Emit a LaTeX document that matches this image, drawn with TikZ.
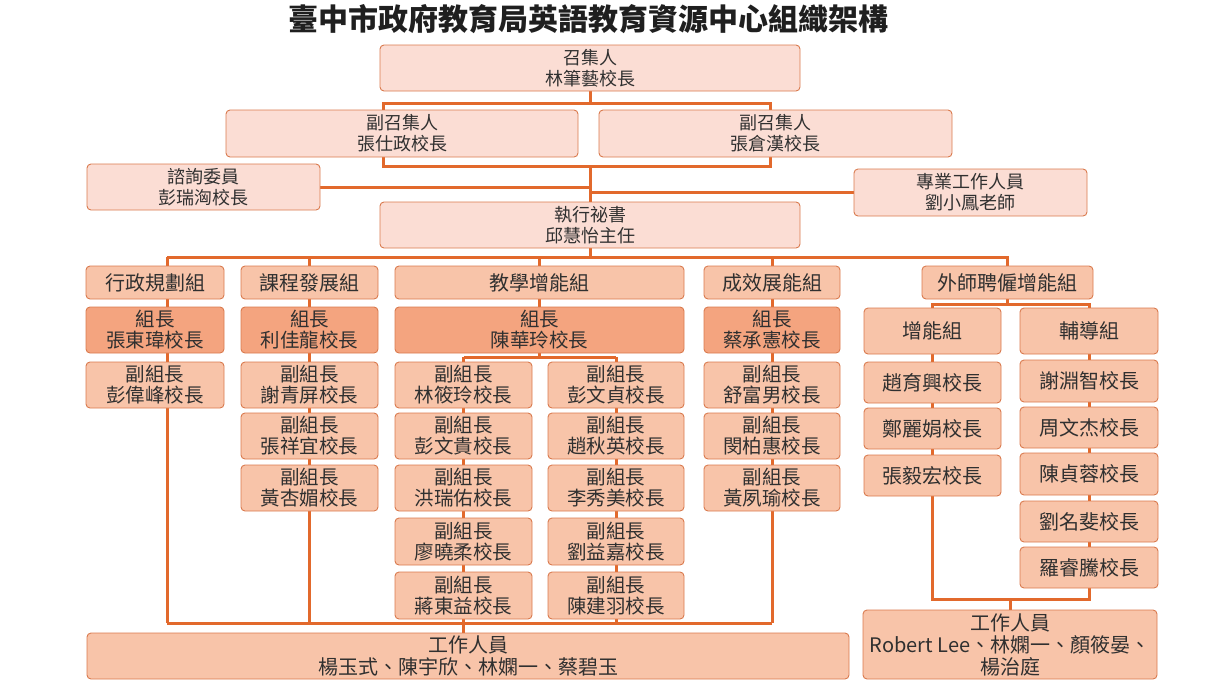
\documentclass[tikz,border=0pt]{standalone}
\usepackage{fontspec}
\setmainfont{Noto Sans CJK TC}
\usetikzlibrary{backgrounds}
\definecolor{lnc}{HTML}{E2692C}
\definecolor{bdc}{HTML}{D97A4E}
\definecolor{pk}{HTML}{FBDDD4}
\definecolor{pm}{HTML}{F8C4A9}
\definecolor{pd}{HTML}{F4A47F}
\definecolor{tx}{HTML}{303030}
\newcommand\bx[7]{\node[#6, minimum width={#4-#2}, minimum height={#5-#3}] (#1) at ({(#2+#4)/2},{(#3+#5)/2}) {#7};}
\tikzset{
  base/.style={rectangle, rounded corners=4pt, draw=bdc, line width=0.9pt, inner sep=0pt, align=center, text=tx},
  topbox/.style={base, fill=pk, font=\fontsize{18}{21}\selectfont},
  hdbox/.style={base, fill=pm, font=\fontsize{20}{22}\selectfont},
  ldbox/.style={base, fill=pd, font=\fontsize{19.5}{21}\selectfont},
  dpbox/.style={base, fill=pm, font=\fontsize{19.5}{21}\selectfont},
  mbbox/.style={base, fill=pm, font=\fontsize{20}{22}\selectfont},
  stbox/.style={base, fill=pm, font=\fontsize{20}{22}\selectfont},
  conn/.style={draw=lnc, line width=3pt},
}
\begin{document}
\begin{tikzpicture}[x=1pt,y=-1pt]
\useasboundingbox (0,0) rectangle (1225,689);
\node[font=\fontsize{30}{33}\selectfont\bfseries, text=black!88] (title) at (588,19) {臺中市政府教育局英語教育資源中心組織架構};
% top
\bx{conv}{380}{45}{800}{91}{topbox}{召集人\\林筆藝校長}
\bx{v1}{226}{110}{578}{157}{topbox}{副召集人\\張仕政校長}
\bx{v2}{599}{110}{952}{157}{topbox}{副召集人\\張倉漢校長}
\bx{adv}{87}{164}{320}{210}{topbox}{諮詢委員\\彭瑞洶校長}
\bx{pro}{854}{169}{1087}{216}{topbox}{專業工作人員\\劉小鳳老師}
\bx{exe}{380}{202}{800}{248}{topbox}{執行祕書\\邱慧怡主任}
% headers
\bx{h1}{86}{266}{224}{299}{hdbox}{行政規劃組}
\bx{h2}{241}{266}{378}{299}{hdbox}{課程發展組}
\bx{h3}{395}{266}{684}{299}{hdbox}{教學增能組}
\bx{h4}{704}{266}{840}{299}{hdbox}{成效展能組}
\bx{h5}{922}{266}{1093}{299}{hdbox}{外師聘僱增能組}
% leaders
\bx{l1}{86}{307}{224}{353}{ldbox}{組長\\張東瑋校長}
\bx{l2}{241}{307}{378}{353}{ldbox}{組長\\利佳龍校長}
\bx{l3}{395}{307}{684}{353}{ldbox}{組長\\陳華玲校長}
\bx{l4}{704}{307}{840}{353}{ldbox}{組長\\蔡承憲校長}
\bx{g1}{864}{308}{1001}{354}{hdbox}{增能組}
\bx{g2}{1020}{308}{1158}{354}{hdbox}{輔導組}
% deputies
\bx{d11}{86}{362}{224}{408}{dpbox}{副組長\\彭偉峰校長}
\bx{d21}{241}{362}{378}{408}{dpbox}{副組長\\謝青屏校長}
\bx{d22}{241}{413}{378}{459}{dpbox}{副組長\\張祥宜校長}
\bx{d23}{241}{465}{378}{511}{dpbox}{副組長\\黃杏媚校長}
\bx{d31}{395}{362}{532}{408}{dpbox}{副組長\\林筱玲校長}
\bx{d32}{395}{413}{532}{459}{dpbox}{副組長\\彭文貴校長}
\bx{d33}{395}{465}{532}{511}{dpbox}{副組長\\洪瑞佑校長}
\bx{d34}{395}{518}{532}{565}{dpbox}{副組長\\廖曉柔校長}
\bx{d35}{395}{572}{532}{619}{dpbox}{副組長\\蔣東益校長}
\bx{d41}{548}{362}{684}{408}{dpbox}{副組長\\彭文貞校長}
\bx{d42}{548}{413}{684}{459}{dpbox}{副組長\\趙秋英校長}
\bx{d43}{548}{465}{684}{511}{dpbox}{副組長\\李秀美校長}
\bx{d44}{548}{518}{684}{565}{dpbox}{副組長\\劉益嘉校長}
\bx{d45}{548}{572}{684}{619}{dpbox}{副組長\\陳建羽校長}
\bx{d51}{704}{362}{840}{408}{dpbox}{副組長\\舒富男校長}
\bx{d52}{704}{413}{840}{459}{dpbox}{副組長\\閔柏惠校長}
\bx{d53}{704}{465}{840}{511}{dpbox}{副組長\\黃夙瑜校長}
% members
\bx{m11}{864}{362}{1001}{403}{mbbox}{趙育興校長}
\bx{m12}{864}{408}{1001}{449}{mbbox}{鄭麗娟校長}
\bx{m13}{864}{455}{1001}{496}{mbbox}{張毅宏校長}
\bx{m21}{1020}{360}{1158}{402}{mbbox}{謝淵智校長}
\bx{m22}{1020}{407}{1158}{448}{mbbox}{周文杰校長}
\bx{m23}{1020}{453}{1158}{495}{mbbox}{陳貞蓉校長}
\bx{m24}{1020}{501}{1158}{542}{mbbox}{劉名斐校長}
\bx{m25}{1020}{547}{1158}{588}{mbbox}{羅睿騰校長}
% staff
\bx{s1}{87}{633}{849}{679}{stbox}{工作人員\\楊玉式、陳宇欣、林嫻一、蔡碧玉}
\bx{s2}{863}{610}{1157}{679}{stbox}{工作人員\\Robert Lee、林嫻一、顏筱晏、\\楊治庭}
% junction coordinates
\coordinate (yA) at (0,103);
\coordinate (yB) at (0,166);
\coordinate (jl) at (383,103);
\coordinate (jr) at (770,166);
\coordinate (yBus) at (0,257);
\coordinate (c1) at (167,257);
\coordinate (yBot) at (0,623);
\coordinate (b1) at (167,623);
\coordinate (yT) at (0,357);
\coordinate (yR1) at (0,304);
\coordinate (yR2) at (0,599);
\begin{pgfonlayer}{background}
\draw[conn] (conv.south) -- (conv.south |- yA);
\draw[conn] (jl) rectangle (jr);
\draw[conn] (conv.south |- yB) -- (exe.north);
\draw[conn] (adv.east) -- (adv.east -| exe.north);
\draw[conn] (pro.west) -- (pro.west -| exe.north);
\draw[conn] (exe.south) -- (exe.south |- yBus);
\draw[conn] (c1) -| (h5.north);
\draw[conn] (h2.north |- yBus) -- (h2.north);
\draw[conn] (h3.north |- yBus) -- (h3.north);
\draw[conn] (h4.north |- yBus) -- (h4.north);
% column lines
\draw[conn] (c1) -- (b1);
\draw[conn] (h2.north) -- (h2.north |- yBot);
\draw[conn] (h3.north) -- (l3.south |- yT);
\draw[conn] (d31.north |- yT) -- (d41.north |- yT);
\draw[conn] (d31.north |- yT) -- (s1.north -| d31.north);
\draw[conn] (d41.north |- yT) -- (d41.north |- yBot);
\draw[conn] (h4.north) -- (h4.north |- yBot);
\draw[conn] (b1) -- (h4.north |- yBot);
% right side
\draw[conn] (h5.south) -- (h5.south |- yR1);
\draw[conn] (g1.north |- yR1) rectangle (g2.north |- yR2);
\draw[conn] (s2.north |- yR2) -- (s2.north);
\end{pgfonlayer}
\end{tikzpicture}
\end{document}
